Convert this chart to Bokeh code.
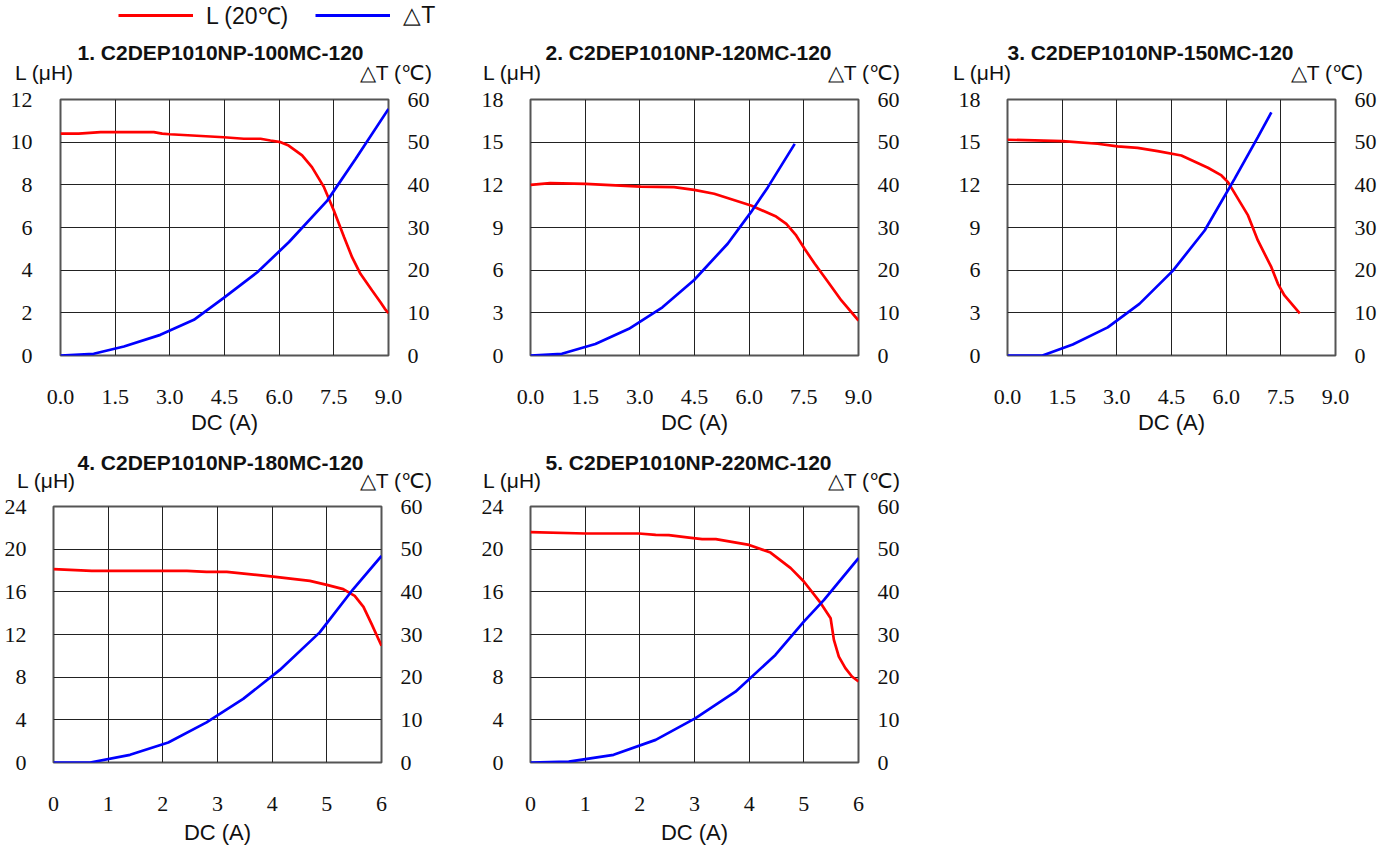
from bokeh.plotting import figure
from bokeh.models import Range1d, LinearAxis, FixedTicker, NumeralTickFormatter, Label, Legend, LegendItem
from bokeh.layouts import column, row
from bokeh.embed import file_html
from bokeh.resources import INLINE

# ---------------- data ----------------
legend_labels = ["L (20℃)", "△T"]
titles = ["1. C2DEP1010NP-100MC-120", "2. C2DEP1010NP-120MC-120", "3. C2DEP1010NP-150MC-120",
          "4. C2DEP1010NP-180MC-120", "5. C2DEP1010NP-220MC-120"]
x_label = "DC (A)"
left_unit = "L (μH)"
right_unit = "△T (℃)"

x_ticks_9 = [0, 1.5, 3.0, 4.5, 6.0, 7.5, 9.0]
x_ticks_6 = [0, 1, 2, 3, 4, 5, 6]
L_ticks_12 = [0, 2, 4, 6, 8, 10, 12]
L_ticks_18 = [0, 3, 6, 9, 12, 15, 18]
L_ticks_24 = [0, 4, 8, 12, 16, 20, 24]
T_ticks = [0, 10, 20, 30, 40, 50, 60]

# panel 1
p1_L_x = [0, 0.5, 1.1, 2.56, 2.79, 3.0, 4.48, 5.03, 5.49, 5.76, 6.04, 6.26, 6.63, 6.9, 7.23, 7.5, 7.78, 8.0, 8.23, 8.55, 8.78, 8.9, 9.0]
p1_L_y = [10.4, 10.4, 10.47, 10.47, 10.4, 10.37, 10.23, 10.16, 10.16, 10.08, 10.0, 9.84, 9.38, 8.83, 7.89, 6.8, 5.55, 4.61, 3.83, 3.05, 2.5, 2.19, 1.98]
p1_T_x = [0, 0.91, 1.74, 2.74, 3.66, 4.48, 5.4, 6.27, 7.32, 8.1, 9.0]
p1_T_y = [0, 0.4, 2.1, 4.84, 8.36, 13.5, 19.5, 26.6, 36.3, 46.1, 57.8]
# panel 2
p2_L_x = [0, 0.54, 1.51, 3.02, 3.94, 4.49, 5.04, 6.05, 6.74, 7.02, 7.29, 7.52, 7.8, 8.17, 8.53, 9.0]
p2_L_y = [12.0, 12.12, 12.07, 11.88, 11.84, 11.65, 11.37, 10.55, 9.77, 9.26, 8.44, 7.5, 6.45, 5.15, 3.87, 2.46]
p2_T_x = [0, 0.86, 1.78, 2.7, 3.62, 4.49, 5.41, 6.05, 6.51, 7.25]
p2_T_y = [0, 0.4, 2.7, 6.25, 11.3, 17.7, 26.2, 33.6, 39.4, 49.6]
# panel 3
p3_L_x = [0, 1.51, 2.47, 3.02, 3.57, 4.12, 4.77, 5.5, 5.87, 6.05, 6.6, 6.87, 7.24, 7.42, 7.6, 8.02]
p3_L_y = [15.17, 15.07, 14.89, 14.7, 14.6, 14.37, 14.06, 13.2, 12.66, 12.19, 9.85, 8.09, 6.21, 5.04, 4.22, 2.97]
p3_T_x = [0, 0.96, 1.79, 2.75, 3.62, 4.54, 5.41, 6.23, 6.87, 7.24]
p3_T_y = [0, 0, 2.58, 6.6, 12.1, 19.9, 29.3, 41.4, 51.2, 57.0]
# panel 4
p4_L_x = [0, 0.7, 2.44, 2.8, 3.17, 4.02, 4.69, 5.0, 5.3, 5.51, 5.67, 5.82, 6.0]
p4_L_y = [18.13, 17.97, 17.97, 17.87, 17.87, 17.43, 17.03, 16.65, 16.25, 15.62, 14.59, 12.97, 10.94]
p4_T_x = [0, 0.67, 1.4, 2.1, 2.8, 3.47, 4.14, 4.87, 5.48, 6.0]
p4_T_y = [0, 0, 1.8, 4.7, 9.4, 14.9, 21.7, 30.5, 40.6, 48.4]
# panel 5
p5_L_x = [0, 1.0, 1.98, 2.29, 2.53, 2.9, 3.14, 3.39, 4.0, 4.39, 4.76, 5.0, 5.31, 5.49, 5.55, 5.64, 5.76, 5.88, 6.0]
p5_L_y = [21.6, 21.47, 21.47, 21.34, 21.31, 21.09, 20.94, 20.94, 20.4, 19.68, 18.22, 16.97, 14.94, 13.53, 11.5, 9.93, 8.85, 8.06, 7.59]
p5_T_x = [0, 0.7, 1.52, 2.29, 3.02, 3.75, 4.48, 5.0, 5.37, 6.0]
p5_T_y = [0, 0.2, 1.8, 5.3, 10.4, 16.6, 25.2, 33.0, 38.1, 47.9]

# placeholder (not drawn) data for the legend swatches
legend_swatch_x = [float("nan")]
legend_swatch_y = [float("nan")]

# ---------------- style ----------------
RED = "#ff0000"
BLUE = "#0000ff"
TICK_FONT = "Liberation Serif"
SANS = "Liberation Sans"
FW, FH = 328, 256
TOPB = 14


def make_panel(Lx, Ly, Tx, Ty, xticks, Lticks, xfmt, bl, br, bb, xstand, lstand, albl_stand):
    w = bl + FW + br
    h = TOPB + FH + bb
    p = figure(width=w, height=h, output_backend="svg", toolbar_location=None,
               x_range=Range1d(xticks[0], xticks[-1]), y_range=Range1d(Lticks[0], Lticks[-1]),
               min_border_left=bl, min_border_right=br, min_border_top=TOPB, min_border_bottom=bb)
    p.extra_y_ranges = {"T": Range1d(T_ticks[0], T_ticks[-1])}
    rax = LinearAxis(y_range_name="T", ticker=FixedTicker(ticks=T_ticks))
    p.add_layout(rax, "right")
    p.xaxis.ticker = FixedTicker(ticks=xticks)
    p.yaxis[0].ticker = FixedTicker(ticks=Lticks)
    if xfmt:
        p.xaxis.formatter = NumeralTickFormatter(format=xfmt)
    for ax in p.axis:
        ax.axis_line_color = None
        ax.major_tick_line_color = None
        ax.minor_tick_line_color = None
        ax.major_tick_out = 0
        ax.major_tick_in = 0
        ax.minor_tick_out = 0
        ax.minor_tick_in = 0
        ax.major_label_text_font = TICK_FONT
        ax.major_label_text_font_size = "22px"
        ax.major_label_text_color = "#111111"
    p.xaxis.major_label_standoff = xstand
    p.xaxis.axis_label = x_label
    p.xaxis.axis_label_text_font = SANS
    p.xaxis.axis_label_text_font_size = "22px"
    p.xaxis.axis_label_text_font_style = "normal"
    p.xaxis.axis_label_text_color = "#111111"
    p.xaxis.axis_label_standoff = albl_stand
    p.yaxis[0].major_label_standoff = lstand
    rax.major_label_standoff = 19
    p.xgrid.ticker = FixedTicker(ticks=xticks)
    p.ygrid.ticker = FixedTicker(ticks=Lticks)
    p.grid.grid_line_color = "#222222"
    p.grid.grid_line_width = 1
    p.outline_line_color = "#555555"
    p.outline_line_width = 2
    p.background_fill_color = "white"
    p.border_fill_color = "white"

    p.line(Lx, Ly, line_color=RED, line_width=2.7)
    p.line(Tx, Ty, line_color=BLUE, line_width=2.7, y_range_name="T")
    return p


def make_header(width, height, entries):
    hf = figure(width=width, height=height, output_backend="svg", toolbar_location=None,
                x_range=Range1d(0, 1), y_range=Range1d(0, 1),
                x_axis_location=None, y_axis_location=None, min_border=0)
    hf.grid.visible = False
    hf.outline_line_color = None
    hf.border_fill_color = "white"
    hf.background_fill_color = "white"
    for (txt, x, y, bold) in entries:
        hf.add_layout(Label(x=x, y=y, x_units="screen", y_units="screen", text=txt,
                            text_font=SANS, text_font_style="bold" if bold else "normal",
                            text_font_size="21px", text_align="center", text_baseline="middle",
                            text_color="#111111"))
    return hf


# header 1 (legend + titles + units of row 1): page y 0..85
H1 = 85
h1 = make_header(1380, H1, [
    (titles[0], 220, 33, True), (titles[1], 688, 33, True), (titles[2], 1150, 33, True),
    (left_unit, 44, 13, False), (left_unit, 512, 13, False), (left_unit, 982, 13, False),
    (right_unit, 394, 13, False), (right_unit, 862, 13, False), (right_unit, 1325, 13, False),
])
r1 = h1.line(legend_swatch_x, legend_swatch_y, line_color=RED, line_width=3)
r2 = h1.line(legend_swatch_x, legend_swatch_y, line_color=BLUE, line_width=3)
leg = Legend(items=[LegendItem(label=legend_labels[0], renderers=[r1]),
                    LegendItem(label=legend_labels[1], renderers=[r2])],
             orientation="horizontal", location=(118, 54), padding=0, margin=0,
             glyph_width=75, glyph_height=24, label_standoff=13, spacing=27,
             border_line_color=None, background_fill_alpha=0,
             label_text_font=SANS, label_text_font_size="23px", label_text_color="#111111")
h1.add_layout(leg)

# row 1: page y 85..445, frames 99..355
p1 = make_panel(p1_L_x, p1_L_y, p1_T_x, p1_T_y, x_ticks_9, L_ticks_12, "0.0", 60, 90, 90, 34, 28, 3)
p2 = make_panel(p2_L_x, p2_L_y, p2_T_x, p2_T_y, x_ticks_9, L_ticks_18, "0.0", 52, 97, 90, 34, 27, 3)
p3 = make_panel(p3_L_x, p3_L_y, p3_T_x, p3_T_y, x_ticks_9, L_ticks_18, "0.0", 52, 45, 90, 34, 27, 3)

# header 2: page y 445..492
H2 = 47
h2 = make_header(1380, H2, [
    (titles[3], 220, 30, True), (titles[4], 688, 30, True),
    (left_unit, 46, 12, False), (left_unit, 512, 12, False),
    (right_unit, 394, 12, False), (right_unit, 862, 12, False),
])

# row 2: page y 492..851, frames 506..762
p4 = make_panel(p4_L_x, p4_L_y, p4_T_x, p4_T_y, x_ticks_6, L_ticks_24, None, 53, 97, 89, 34, 27, 6)
p5 = make_panel(p5_L_x, p5_L_y, p5_T_x, p5_T_y, x_ticks_6, L_ticks_24, None, 52, 45, 89, 34, 27, 6)

layout = column(h1, row(p1, p2, p3), h2, row(p4, p5))
open("out.html", "w").write(file_html(layout, INLINE))
